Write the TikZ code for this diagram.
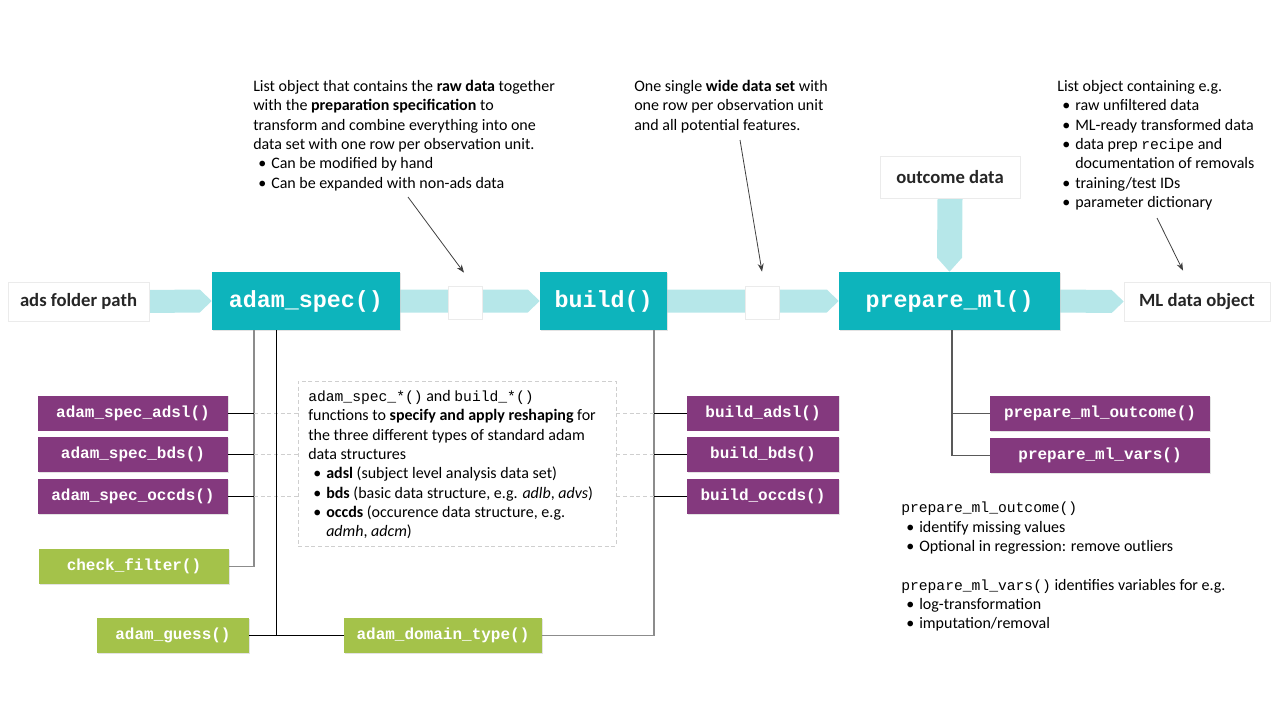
\documentclass[tikz,border=0pt]{standalone}
\usepackage{fontspec}
\setmainfont{Carlito}
\setmonofont{Liberation Mono}
\usetikzlibrary{calc,arrows.meta,shadows,backgrounds}

\definecolor{admteal}{HTML}{0DB4BC}
\definecolor{admband}{HTML}{B6E7E9}
\definecolor{admpurple}{HTML}{84397E}
\definecolor{admgreen}{HTML}{A4C24A}
\definecolor{dashgray}{HTML}{CFCFCF}
\definecolor{linegray}{HTML}{8C8C8C}
\definecolor{darkline}{HTML}{595959}

\newcommand{\notesize}{\fontsize{12}{14.5}\selectfont}
\newcommand{\codetext}[1]{{\fontsize{11}{14.5}\selectfont\ttfamily #1}}
\newcommand{\bul}{\hspace*{3.75pt}\makebox[9.75pt][l]{\textbullet}}
\newcommand{\chevron}[2]{%
  \fill[band] ($(#1.east)+(0,-11.5)$) -- ($(#2.west)+(-12,-11.5)$) -- (#2.west)
    -- ($(#2.west)+(-12,11.5)$) -- ($(#1.east)+(0,11.5)$) -- cycle;}

\begin{document}
\begin{tikzpicture}[x=0.75pt,y=-0.75pt,
    every node/.style={inner sep=0pt},
    shadowed/.style={drop shadow={opacity=0.22,shadow xshift=0.7pt,shadow yshift=-0.7pt}},
    inbox/.style={fill=white,draw=black!8,line width=0.5pt,font=\fontsize{14}{16}\selectfont\bfseries,
      text=black!85,minimum width=#1,minimum height=29.25pt,shadowed},
    mainfn/.style={fill=admteal,text=white,font=\fontsize{17.5}{20}\selectfont\ttfamily\bfseries,
      minimum width=#1,minimum height=43.5pt,shadowed},
    subfn/.style={fill=admpurple,text=white,font=\fontsize{12}{14}\selectfont\ttfamily\bfseries,
      minimum width=#1,minimum height=26.25pt,shadowed},
    helpfn/.style={subfn=#1,fill=admgreen},
    gapbox/.style={fill=white,draw=black!8,line width=0.5pt,minimum width=25.5pt,
      minimum height=24.75pt,shadowed},
    notetext/.style={font=\notesize,align=left,anchor=north west},
    band/.style={fill=admband},
    blk/.style={draw=black,line width=0.75pt},
    gline/.style={draw=linegray,line width=0.9pt},
    dkline/.style={draw=darkline,line width=0.9pt},
    dline/.style={draw=dashgray,line width=0.6pt,dash pattern=on 3pt off 2pt},
    pointer/.style={draw=black!75,line width=0.6pt,-{Stealth[length=6pt,width=4.5pt]}}]
  \useasboundingbox (0,0) rectangle (1280,720);

  \node[inbox=105.75pt] (adspath) at (78.5,301.5) {ads folder path};
  \node[mainfn=141pt] (adamspec) at (306,301) {adam\_spec()};
  \node[gapbox] (specout) at (465,302.5) {};
  \node[mainfn=95.25pt] (build) at (603.5,301) {build()};
  \node[gapbox] (buildout) at (762,302.5) {};
  \node[mainfn=165.75pt] (prepml) at (949.5,301) {prepare\_ml()};
  \node[inbox=109.5pt] (mlobj) at (1197,301.5) {ML data object};
  \node[inbox=105pt,minimum height=31.5pt] (outcome) at (950,177) {outcome data};

  \begin{scope}[on background layer]
    \chevron{adspath}{adamspec}
    \chevron{adamspec}{build}
    \chevron{build}{prepml}
    \chevron{prepml}{mlobj}
    \fill[band] ($(outcome.south)+(-12.5,0)$) -- ($(prepml.north)+(-12.5,-14)$) -- (prepml.north)
      -- ($(prepml.north)+(12.5,-14)$) -- ($(outcome.south)+(12.5,0)$) -- cycle;
  \end{scope}

  \node[subfn=142.5pt] (specadsl) at (133,413) {adam\_spec\_adsl()};
  \node[subfn=142.5pt] (specbds) at (133,454.5) {adam\_spec\_bds()};
  \node[subfn=142.5pt] (specoccds) at (133,496.5) {adam\_spec\_occds()};
  \node[helpfn=142.5pt] (checkfilter) at (134,566.5) {check\_filter()};
  \node[helpfn=114pt] (guess) at (173,635.5) {adam\_guess()};
  \node[helpfn=148.5pt] (domain) at (443,635.5) {adam\_domain\_type()};
  \node[subfn=114pt] (buildadsl) at (763,413) {build\_adsl()};
  \node[subfn=114pt] (buildbds) at (763,454.5) {build\_bds()};
  \node[subfn=114pt] (buildoccds) at (763,496.5) {build\_occds()};
  \node[subfn=165pt] (mlout) at (1100,413.5) {prepare\_ml\_outcome()};
  \node[subfn=165pt] (mlvars) at (1100,455.5) {prepare\_ml\_vars()};

  \node[draw=dashgray,line width=0.6pt,dash pattern=on 3pt off 2pt,minimum width=238.5pt,
    minimum height=123.75pt] (shapes) at (457,463.5) {};
  \node[notetext] (shapestext) at (308,390)
    {\codetext{adam\_spec\_*()} and \codetext{build\_*()}\\
     functions to \textbf{specify and apply reshaping} for\\
     the three different types of standard adam\\
     data structures\\
     \bul\textbf{adsl} (subject level analysis data set)\\
     \bul\textbf{bds} (basic data structure, e.g. \textit{adlb}, \textit{advs})\\
     \bul\textbf{occds} (occurence data structure, e.g.\\
     \hspace*{13.5pt}\textit{admh}, \textit{adcm})};

  \coordinate (busA) at (254,0);
  \coordinate (busB) at (276,0);
  \coordinate (busC) at (654,0);
  \coordinate (busD) at (952,0);

  \draw[gline] (adamspec.south -| busA) |- (checkfilter.east);
  \foreach \f in {specadsl,specbds,specoccds} {
    \draw[blk] (\f.east) -- (\f.east -| busA);
    \draw[dline] (\f.east -| busA) -- (\f.east -| shapes.west);
  }
  \draw[blk] (adamspec.south -| busB) -- (guess.east -| busB);
  \draw[blk] (guess.east) -- (domain.west);
  \draw[gline] (domain.east) -| (build.south -| busC);
  \foreach \f in {buildadsl,buildbds,buildoccds} {
    \draw[blk] (\f.west -| busC) -- (\f.west);
    \draw[dline] (\f.west -| shapes.east) -- (\f.west -| busC);
  }
  \draw[dkline] (prepml.south -| busD) |- (mlvars.west);
  \draw[dkline] (mlout.west -| busD) -- (mlout.west);

  \node[notetext] (specnote) at (253,80)
    {List object that contains the \textbf{raw data} together\\
     with the \textbf{preparation specification} to\\
     transform and combine everything into one\\
     data set with one row per observation unit.\\
     \bul Can be modified by hand\\
     \bul Can be expanded with non-ads data};
  \node[notetext] (buildnote) at (634,80)
    {One single \textbf{wide data set} with\\
     one row per observation unit\\
     and all potential features.};
  \node[notetext] (mlnote) at (1057,80)
    {List object containing e.g.\\
     \bul raw unfiltered data\\
     \bul ML-ready transformed data\\
     \bul data prep \codetext{recipe} and\\
     \hspace*{13.5pt}documentation of removals\\
     \bul training/test IDs\\
     \bul parameter dictionary};
  \node[notetext] (prepnote) at (901,502)
    {\codetext{prepare\_ml\_outcome()}\\
     \bul identify missing values\\
     \bul Optional in regression: remove outliers\\[14.5pt]
     \codetext{prepare\_ml\_vars()} identifies variables for e.g.\\
     \bul log-transformation\\
     \bul imputation/removal};

  \coordinate (specptr) at (408,197);
  \coordinate (buildptr) at (740,140);
  \coordinate (mlptr) at (1157,218);
  \draw[pointer] (specptr) -- ($(specout.north)+(-1,-13)$);
  \draw[pointer] (buildptr) -- ($(buildout.north)+(0,-14)$);
  \draw[pointer] (mlptr) -- ($(mlobj.north)+(-14,-11)$);
\end{tikzpicture}
\end{document}
